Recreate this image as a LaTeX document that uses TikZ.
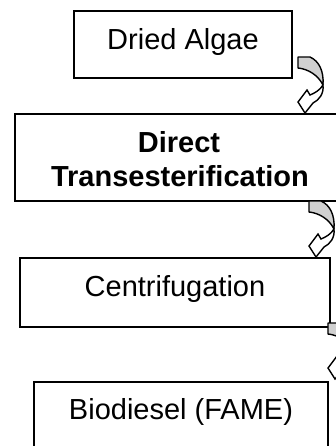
\documentclass[tikz,border=0pt]{standalone}
\usepackage{fontspec}
\setmainfont{Liberation Sans}
\usepackage{tikz}
\usetikzlibrary{calc}

\definecolor{foldgray}{RGB}{208,208,208}

\tikzset{
  box/.style={draw=black, line width=1pt, inner sep=0pt},
  lbl/.style={font=\fontsize{14.5}{16.7}\selectfont, anchor=base, inner sep=0pt},
  % curved block arrow: grey back face at the tail, white face and head below
  turnarrow/.pic={
    \filldraw[fill=foldgray, line width=0.7pt, line join=round] (0,0) -- (12,0) .. controls (21,4) and (26,14) .. (25,28) .. controls (20,18) and (10,12) .. (0,11) -- cycle;
    \filldraw[fill=white, line width=0.7pt] (25,28) .. controls (26,37) and (21,43) .. (15,46) -- (7,56) -- (0,45) -- (9,33) -- (12,38) .. controls (17,36) and (22,33) .. (25,28) -- cycle;
  }
}

\begin{document}
\begin{tikzpicture}[x=0.5pt, y=-0.5pt]
\useasboundingbox (0,0) rectangle (336,446);
\clip (0,0) rectangle (336,446);

% process boxes
\node[box, minimum width=109pt, minimum height=33.5pt] (algae) at (183,44.5) {};
\node[box, minimum width=165pt, minimum height=43.5pt] (transest) at (180,157.5) {};
\node[box, minimum width=155pt, minimum height=34.5pt] (centrif) at (175,292.5) {};
\node[box, minimum width=147pt, minimum height=44pt] (fame) at (181,426) {};

% box texts
\node[lbl] (algaeText) at (183,49.3) {Dried Algae};
\node[lbl, font=\fontsize{14.5}{16.7}\selectfont\bfseries] (directText) at (179,152.7) {Direct};
\node[lbl, font=\fontsize{14.5}{16.7}\selectfont\bfseries] (transText) at (180,186) {Transesterification};
\node[lbl] (centrifText) at (175,296.5) {Centrifugation};
\node[lbl] (fameText) at (181,419) {Biodiesel (FAME)};

% arrows between the steps
\pic at ($(algae.east)+(5,12.5)$) {turnarrow};
\pic at ($(transest.south east)+(-37,-1)$) {turnarrow};
\pic at ($(centrif.south east)+(-3,-5)$) {turnarrow};

\end{tikzpicture}
\end{document}
